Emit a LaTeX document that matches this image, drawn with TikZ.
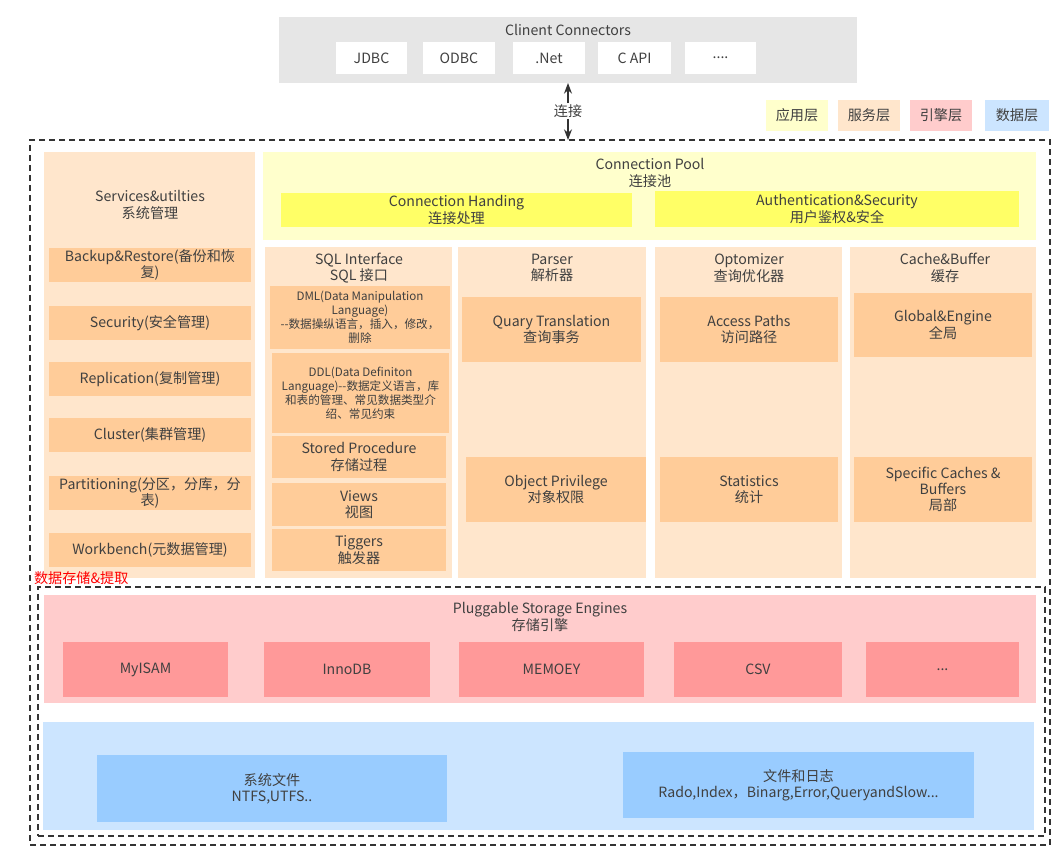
\documentclass[tikz,border=0pt]{standalone}
\usepackage{fontspec}
\setmainfont{Noto Sans CJK SC}
\usetikzlibrary{arrows.meta}
\definecolor{cgrey}{HTML}{E6E6E6}
\definecolor{yl}{HTML}{FFFFCC}
\definecolor{yd}{HTML}{FFFF66}
\definecolor{pl}{HTML}{FFE6CC}
\definecolor{pd}{HTML}{FFCC99}
\definecolor{rl}{HTML}{FFCCCC}
\definecolor{rd}{HTML}{FF9999}
\definecolor{bl}{HTML}{CCE5FF}
\definecolor{bd}{HTML}{99CCFF}
\definecolor{txt}{HTML}{404040}
\definecolor{dsh}{HTML}{333333}
\newcommand\rbox[7]{%
  \pgfmathsetmacro\rbw{(#4-#2)*0.75}%
  \pgfmathsetmacro\rbh{(#5-#3)*0.75}%
  \node[#6, minimum width=\rbw pt, minimum height=\rbh pt] (#1) at ({(#2+#4)/2},{(#3+#5)/2}) {#7};}
\tikzset{
  every node/.style={inner sep=0pt, outer sep=0pt, text=txt, align=center,
     font=\fontsize{10.6}{12.2}\selectfont},
  small/.style={font=\fontsize{8.7}{10.5}\selectfont},
  dashbox/.style={draw=dsh, line width=1pt, dash pattern=on 4.5pt off 3pt},
  conn/.style={-{Stealth[length=8pt,width=6pt]}, line width=0.9pt, draw=dsh},
}
\begin{document}
\begin{tikzpicture}[x=0.75pt,y=-0.75pt]
\useasboundingbox (0,0) rectangle (1064,862);
% client connectors
\rbox{cc}{279}{17}{857}{83}{fill=cgrey}{}
\node (cct) at (568,30) {Clinent Connectors};
\rbox{jdbc}{336}{42}{407}{74}{fill=white}{JDBC}
\rbox{odbc}{423}{42}{495}{74}{fill=white}{ODBC}
\rbox{net}{513}{42}{585}{74}{fill=white}{.Net}
\rbox{capi}{598}{42}{671}{74}{fill=white}{C API}
\rbox{more}{685}{42}{756}{74}{fill=white}{....}
% legend
\rbox{lg1}{766}{100}{828}{131}{fill=yl}{应用层}
\rbox{lg2}{838}{100}{900}{131}{fill=pl}{服务层}
\rbox{lg3}{910}{100}{972}{131}{fill=rl}{引擎层}
\rbox{lg4}{985}{100}{1049}{131}{fill=bl}{数据层}
% outer dashed
\rbox{outer}{30}{140}{1050}{845}{dashbox}{}
% arrow
\node[fill=white, inner sep=1pt] (lk) at (568,111) {连接};
\draw[conn] (lk.north) -- (lk.north |- cc.south);
\draw[conn] (lk.south) -- (lk.south |- outer.north);
% services
\rbox{svc}{44}{152}{255}{578}{fill=pl}{}
\node (svct) at (150,205) {Services\&utilties\\系统管理};
\rbox{s1}{49}{248}{251}{282}{fill=pd}{Backup\&Restore(备份和恢\\复)}
\rbox{s2}{49}{306}{251}{340}{fill=pd}{Security(安全管理)}
\rbox{s3}{49}{362}{251}{396}{fill=pd}{Replication(复制管理)}
\rbox{s4}{49}{418}{251}{452}{fill=pd}{Cluster(集群管理)}
\rbox{s5}{49}{476}{251}{510}{fill=pd}{Partitioning(分区，分库，分\\表)}
\rbox{s6}{49}{533}{251}{567}{fill=pd}{Workbench(元数据管理)}
% connection pool
\rbox{cp}{263}{152}{1036}{240}{fill=yl}{}
\node (cpt) at (650,173) {Connection Pool\\连接池};
\rbox{ch}{281}{193}{632}{227}{fill=yd}{Connection Handing\\连接处理}
\rbox{au}{655}{191}{1019}{227}{fill=yd}{Authentication\&Security\\用户鉴权\&安全}
% SQL interface
\rbox{sql}{265}{247}{452}{578}{fill=pl}{}
\node (sqlt) at (359,268) {SQL Interface\\SQL 接口};
\rbox{dml}{270}{286}{450}{349}{fill=pd,small}{DML(Data Manipulation\\Language)\\-{}-数据操纵语言，插入，修改，\\删除}
\rbox{ddl}{272}{353}{449}{433}{fill=pd,small}{DDL(Data Definiton\\Language)-{}-数据定义语言，库\\和表的管理、常见数据类型介\\绍、常见约束}
\rbox{sp}{272}{436}{446}{478}{fill=pd}{Stored Procedure\\存储过程}
\rbox{vw}{272}{483}{446}{526}{fill=pd}{Views\\视图}
\rbox{tg}{272}{529}{446}{571}{fill=pd}{Tiggers\\触发器}
% parser
\rbox{par}{458}{247}{646}{578}{fill=pl}{}
\node (part) at (552,268) {Parser\\解析器};
\rbox{qt}{462}{297}{641}{362}{fill=pd}{Quary Translation\\查询事务}
\rbox{op}{466}{457}{646}{522}{fill=pd}{Object Privilege\\对象权限}
% optimizer
\rbox{opt}{655}{247}{842}{578}{fill=pl}{}
\node (optt) at (749,268) {Optomizer\\查询优化器};
\rbox{ap}{660}{297}{838}{362}{fill=pd}{Access Paths\\访问路径}
\rbox{st}{660}{457}{838}{522}{fill=pd}{Statistics\\统计}
% cache
\rbox{cb}{850}{247}{1036}{578}{fill=pl}{}
\node (cbt) at (945,268) {Cache\&Buffer\\缓存};
\rbox{ge}{854}{293}{1032}{357}{fill=pd}{Global\&Engine\\全局}
\rbox{sc}{854}{457}{1032}{522}{fill=pd}{Specific Caches \&\\Buffers\\局部}
% storage label
\node[anchor=west, text=red] (dsl) at (34,578) {数据存储\&提取};
% inner dashed
\rbox{inner}{38}{587}{1045}{836}{dashbox}{}
% storage engines
\rbox{pse}{44}{595}{1036}{703}{fill=rl}{}
\node (pset) at (540,617) {Pluggable Storage Engines\\存储引擎};
\rbox{e1}{63}{642}{228}{697}{fill=rd}{MyISAM}
\rbox{e2}{264}{642}{430}{697}{fill=rd}{InnoDB}
\rbox{e3}{459}{642}{644}{697}{fill=rd}{MEMOEY}
\rbox{e4}{674}{642}{842}{697}{fill=rd}{CSV}
\rbox{e5}{866}{642}{1019}{697}{fill=rd}{...}
% data layer
\rbox{dl}{43}{722}{1034}{830}{fill=bl}{}
\rbox{f1}{97}{755}{447}{822}{fill=bd}{系统文件\\NTFS,UTFS..}
\rbox{f2}{623}{752}{974}{818}{fill=bd}{文件和日志\\Rado,Index，Binarg,Error,QueryandSlow...}
\end{tikzpicture}
\end{document}
